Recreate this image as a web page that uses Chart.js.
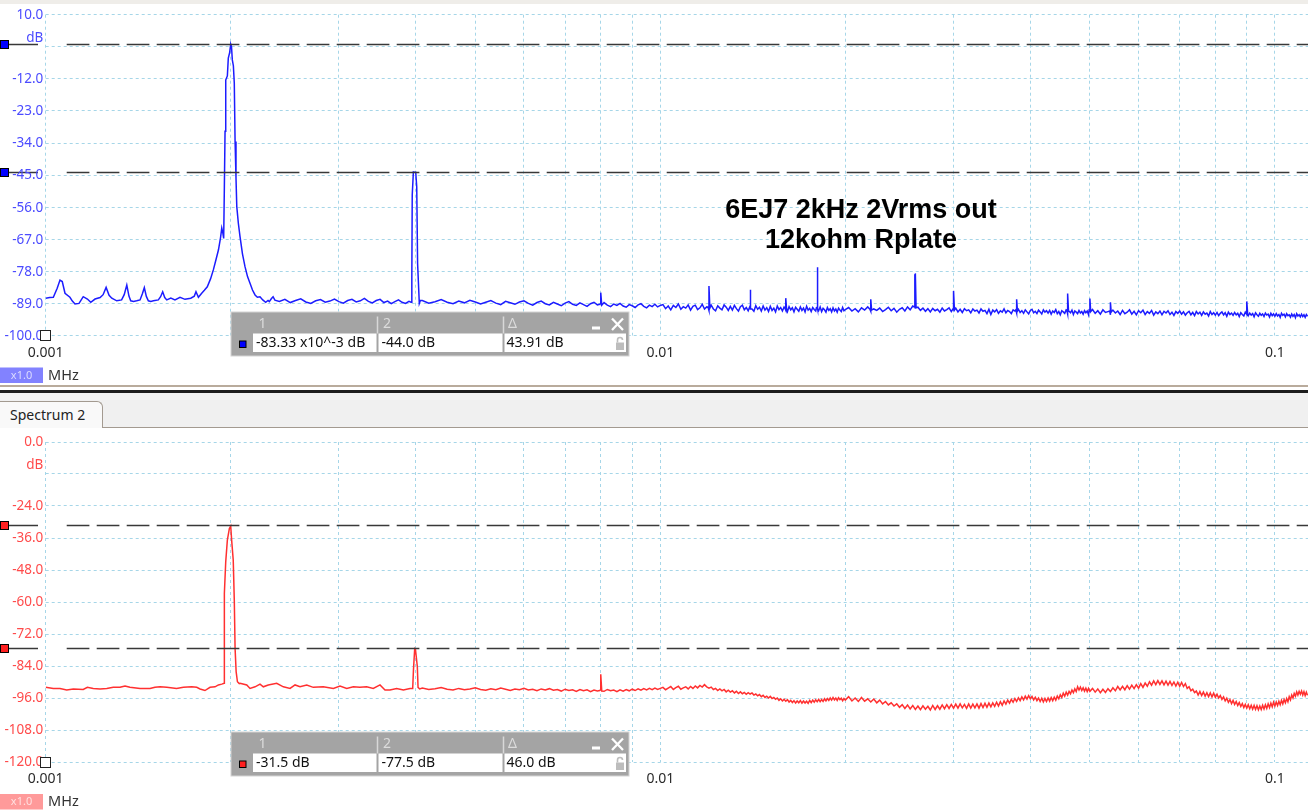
<!DOCTYPE html>
<html><head><meta charset="utf-8">
<script src="https://cdn.jsdelivr.net/npm/chart.js@4/dist/chart.umd.min.js"></script>
<style>
html,body{margin:0;padding:0;background:#fff;}
body{width:1308px;height:812px;position:relative;overflow:hidden;font-family:"Noto Sans",sans-serif;}
#topStrip{position:absolute;left:0;top:0;width:1308px;height:4px;background:#efede9;}
#c1{position:absolute;left:0;top:0;}
#c2{position:absolute;left:0;top:428px;}
#sepA{position:absolute;left:0;top:385px;width:1308px;height:2px;background:#b9ab9c;}
#sepB{position:absolute;left:0;top:390px;width:1308px;height:3px;background:#1c1c1c;}
#tabbar{position:absolute;left:0;top:393px;width:1308px;height:34px;background:#f0f0f0;border-bottom:1px solid #a39a90;}
#tab{position:absolute;left:0;top:401px;width:103px;height:27px;background:#f9f9f9;border:1px solid #a39a90;border-left:none;border-bottom:none;border-top-right-radius:6px;font:14px "Noto Sans";color:#222;line-height:26px;padding-left:10px;box-sizing:border-box;}
</style></head>
<body>
<div id="topStrip"></div>
<canvas id="c1" width="1308" height="385"></canvas>
<div id="sepA"></div><div id="sepB"></div>
<div id="tabbar"></div>
<div id="tab">Spectrum 2</div>
<canvas id="c2" width="1308" height="384"></canvas>
<script>
// ---------------- axis ticks ----------------
const xTickValues = [0.001,0.002,0.003,0.004,0.005,0.006,0.007,0.008,0.009,
                     0.01,0.02,0.03,0.04,0.05,0.06,0.07,0.08,0.09,0.1];
const xLabelValues = [0.001, 0.01, 0.1];
const xLabelTexts = ['0.001', '0.01', '0.1'];
const yTicksTop = [10,-1,-12,-23,-34,-45,-56,-67,-78,-89,-100];
const yTicksBottom = [0,-12,-24,-36,-48,-60,-72,-84,-96,-108,-120];

// ---------------- cursors / readouts ----------------
const cursorsTop = [-0.0833, -44.0];
const cursorsBottom = [-31.5, -77.5];
const readoutTop = ['-83.33 x10^-3 dB', '-44.0 dB', '43.91 dB'];
const readoutBottom = ['-31.5 dB', '-77.5 dB', '46.0 dB'];
const noteLines = ['6EJ7 2kHz 2Vrms out', '12kohm Rplate'];

// ---------------- spectrum 1 (blue), low range, kHz / dB ----------------
const blueLowF = [
1.000,1.015,1.029,1.044,1.055,1.064,1.075,1.095,1.105,1.116,
1.133,1.151,1.169,1.184,1.203,1.226,1.240,1.254,1.268,1.281,
1.305,1.329,1.342,1.355,1.366,1.375,1.390,1.406,1.424,1.436,
1.447,1.458,1.469,1.483,1.497,1.525,1.538,1.550,1.562,1.574,
1.598,1.623,1.654,1.685,1.722,1.745,1.756,1.772,1.794,1.812,
1.832,1.855,1.874,1.892,1.910,1.925,1.934,1.942,1.948,1.953,
1.958,1.963,1.975,1.982,1.992,2.000,2.006,2.012,2.020,2.027,
2.033,2.040,2.046,2.058,2.071,2.090,2.110,2.130,2.150,2.170,
2.191,2.210,2.232,2.255,2.280,2.300,2.311,2.330,2.344,2.360,
2.40,2.45,2.50,2.55,2.60,2.65,2.70,2.75,2.80,2.85,
2.90,2.95,3.00,3.05,3.10,3.15,3.20,3.25,3.30,3.35,
3.40,3.45,3.50,3.55,3.60,3.65,3.70,3.75,3.80,3.85,
3.90,3.93,3.942,3.948,3.965,3.980,4.000,4.015,4.028,4.054,
4.070];
const blueLowDb = [
-87.2,-87.0,-86.9,-83.8,-81.0,-81.5,-85.5,-86.9,-88.2,-89.2,
-89.0,-86.7,-87.5,-88.6,-87.5,-87.0,-86.0,-83.5,-86.2,-87.2,
-88.1,-87.8,-86.0,-82.7,-86.5,-88.1,-88.3,-88.1,-87.8,-85.8,
-83.6,-86.6,-88.1,-88.3,-88.1,-87.8,-86.7,-85.0,-87.0,-87.8,
-87.2,-87.8,-86.9,-87.6,-87.2,-86.5,-85.0,-86.9,-85.5,-84.5,
-83.3,-80.5,-77.5,-74.1,-70.7,-66.5,-63.2,-64.9,-66.7,-49.0,
-30.0,-12.4,-11.0,-4.9,-3.0,-0.08,-1.0,-5.5,-7.5,-13.5,
-33.5,-46.0,-55.8,-61.5,-66.1,-72.0,-76.4,-79.8,-82.1,-84.4,
-86.1,-86.9,-86.7,-87.8,-88.6,-88.0,-88.4,-87.3,-86.7,-87.9,
-88.3,-87.6,-88.7,-88.0,-87.4,-88.5,-89.0,-88.1,-87.7,-88.6,
-88.2,-87.5,-88.4,-88.9,-88.0,-87.6,-88.5,-88.1,-87.3,-88.3,
-88.8,-88.0,-87.6,-88.7,-88.2,-89.1,-88.4,-87.8,-88.6,-89.0,
-88.3,-88.6,-79.7,-51.8,-43.9,-44.0,-44.0,-49.0,-75.2,-89.0,
-88.0];

// ---------------- spectrum 2 (red), low range, kHz / dB ----------------
const redLowF = [
1.000,1.029,1.055,1.082,1.109,1.151,1.169,1.195,1.226,1.257,
1.288,1.321,1.346,1.371,1.424,1.478,1.506,1.535,1.574,1.633,
1.675,1.728,1.761,1.783,1.816,1.851,1.886,1.910,1.934,1.951,
1.953,1.963,1.975,1.990,2.000,2.007,2.019,2.027,2.033,2.041,
2.051,2.065,2.071,2.124,2.150,2.191,2.232,2.260,2.302,2.376,
2.436,2.498,2.545,2.593,2.659,2.725,2.829,2.938,3.012,3.089,
3.166,3.245,3.328,3.412,3.499,3.565,3.632,3.724,3.819,3.916,
3.955,3.966,3.985,3.995,4.024,4.035,4.060];
const redLowDb = [
-92.0,-92.4,-92.4,-93.0,-92.6,-92.8,-92.0,-92.4,-92.6,-92.4,
-92.0,-92.0,-91.5,-92.0,-92.4,-92.4,-92.0,-91.8,-92.0,-92.4,
-92.0,-91.8,-92.0,-92.6,-93.2,-92.0,-91.8,-91.1,-90.8,-90.5,
-56.8,-44.9,-36.8,-32.4,-31.5,-36.8,-44.3,-59.3,-77.4,-86.1,
-89.9,-90.6,-90.5,-91.1,-92.4,-91.8,-90.8,-91.8,-91.1,-90.5,
-91.8,-92.4,-91.1,-91.8,-91.1,-92.0,-91.8,-92.4,-91.5,-92.4,
-91.8,-92.0,-91.8,-92.4,-91.1,-93.0,-93.0,-92.4,-93.0,-92.4,
-92.4,-85.5,-77.4,-77.5,-84.2,-92.0,-92.6];

// ---------------- shared frequency bands (kHz) ----------------
const bandAF = [
4.1,4.2,4.3,4.4,4.5,4.6,4.7,4.8,4.9,5.0,
5.1,5.2,5.3,5.4,5.5,5.6,5.7,5.8,5.9,6.0,
6.1,6.2,6.3,6.4,6.5,6.6,6.7,6.8,6.9,7.0,
7.1,7.2,7.3,7.4,7.5,7.6,7.7,7.8,7.9,8.0,
8.1,8.2,8.3,8.4,8.5,8.6,8.7,8.8,8.9,9.0,
9.1,9.2,9.3,9.4,9.5,9.6,9.7,9.8,9.9,10.0];
const bandABlue = [
-88.0,-88.9,-88.4,-87.7,-88.6,-89.1,-88.2,-88.8,-87.9,-88.5,
-89.2,-88.6,-88.0,-88.9,-89.4,-88.3,-88.8,-89.3,-88.5,-88.1,
-89.0,-89.6,-88.7,-88.2,-89.1,-89.5,-88.6,-89.2,-89.8,-88.9,
-88.4,-89.3,-89.7,-88.8,-89.4,-90.0,-89.1,-88.6,-89.5,-89.0,
-88.7,-89.6,-90.1,-89.2,-89.7,-89.0,-89.9,-90.3,-89.4,-89.8,
-90.4,-89.5,-89.1,-90.0,-90.5,-89.6,-90.1,-89.3,-90.2,-89.7];
const bandARed = [
-92.3,-92.8,-92.5,-92.1,-92.7,-93.0,-92.4,-92.9,-92.6,-92.2,
-92.8,-93.1,-92.5,-92.9,-92.3,-92.7,-93.2,-92.6,-92.9,-92.4,
-93.0,-92.7,-93.3,-92.6,-93.0,-92.5,-93.1,-92.8,-93.4,-92.7,
-93.2,-92.9,-93.5,-92.8,-93.3,-92.9,-93.6,-93.0,-93.4,-92.9,
-93.5,-92.8,-93.3,-93.0,-93.6,-92.9,-93.4,-92.8,-93.3,-92.7,
-93.2,-92.6,-93.1,-92.5,-93.0,-92.4,-92.9,-92.3,-92.8,-92.4];

const bandBF = [
10.1,10.2,10.3,10.4,10.5,10.6,10.7,10.8,10.9,11.0,
11.1,11.2,11.3,11.4,11.5,11.6,11.7,11.8,11.9,12.0,
12.1,12.2,12.3,12.4,12.5,12.6,12.7,12.8,12.9,13.0,
13.1,13.2,13.3,13.4,13.5,13.6,13.7,13.8,13.9,14.0,
14.1,14.2,14.3,14.4,14.5,14.6,14.7,14.8,14.9,15.0,
15.1,15.2,15.3,15.4,15.5,15.6,15.7,15.8,15.9,16.0,
16.1,16.2,16.3,16.4,16.5,16.6,16.7,16.8,16.9,17.0,
17.1,17.2,17.3,17.4,17.5,17.6,17.7,17.8,17.9,18.0,
18.1,18.2,18.3,18.4,18.5,18.6,18.7,18.8,18.9,19.0,
19.1,19.2,19.3,19.4,19.5,19.6,19.7,19.8,19.9,20.0];
const bandBBlue = [
-89.4,-90.8,-89.9,-91.2,-89.7,-90.4,-89.2,-91.0,-90.1,-90.6,
-89.5,-91.3,-90.0,-89.6,-91.1,-90.5,-89.3,-90.9,-90.2,-91.4,
-89.6,-90.9,-91.5,-89.8,-90.6,-91.2,-89.5,-90.3,-91.4,-90.0,
-91.3,-89.7,-90.8,-91.6,-90.1,-89.6,-91.2,-90.4,-91.5,-89.9,
-90.9,-91.7,-89.8,-91.0,-90.3,-91.6,-89.9,-91.3,-90.5,-91.8,
-90.0,-91.4,-90.6,-91.9,-89.9,-91.1,-90.4,-91.6,-90.2,-91.3,
-91.8,-90.1,-91.2,-90.5,-91.9,-90.3,-91.0,-91.7,-90.2,-91.4,
-90.6,-91.9,-90.0,-91.3,-90.7,-91.8,-90.4,-91.1,-91.6,-90.3,
-91.5,-90.2,-91.8,-90.7,-91.2,-92.0,-90.4,-91.4,-90.8,-91.9,
-90.5,-91.6,-90.9,-92.0,-90.6,-91.3,-91.8,-90.4,-91.5,-91.1];
const bandBRed = [
-92.0,-92.9,-92.3,-91.7,-92.8,-92.1,-91.6,-92.7,-92.2,-91.8,
-92.6,-91.7,-92.4,-91.5,-92.2,-91.3,-91.9,-91.0,-91.8,-92.3,
-91.9,-92.8,-92.4,-93.2,-92.6,-93.3,-92.8,-93.7,-93.1,-93.8,
-93.3,-94.1,-93.5,-94.3,-93.7,-94.4,-93.9,-94.6,-94.0,-94.5,
-94.1,-94.9,-94.5,-95.2,-94.7,-95.5,-95.0,-95.8,-95.3,-96.0,
-95.4,-96.2,-95.8,-96.5,-96.0,-96.9,-96.3,-97.1,-96.5,-97.2,
-96.6,-97.5,-96.9,-97.7,-97.0,-97.9,-97.1,-97.8,-97.0,-97.9,
-97.1,-97.9,-97.2,-98.0,-96.9,-97.7,-96.8,-97.6,-96.7,-97.4,
-96.5,-97.4,-96.6,-97.3,-96.3,-97.1,-96.2,-96.9,-96.0,-96.8,
-95.8,-96.7,-96.0,-96.9,-95.9,-96.6,-96.1,-97.0,-96.2,-96.8];

const bandCF = [
20.25,20.5,20.75,21.0,21.25,21.5,21.75,22.0,22.25,22.5,
22.75,23.0,23.25,23.5,23.75,24.0,24.25,24.5,24.75,25.0,
25.25,25.5,25.75,26.0,26.25,26.5,26.75,27.0,27.25,27.5,
27.75,28.0,28.25,28.5,28.75,29.0,29.25,29.5,29.75,30.0,
30.25,30.5,30.75,31.0,31.25,31.5,31.75,32.0,32.25,32.5,
32.75,33.0,33.25,33.5,33.75,34.0,34.25,34.5,34.75,35.0,
35.25,35.5,35.75,36.0,36.25,36.5,36.75,37.0,37.25,37.5,
37.75,38.0,38.25,38.5,38.75,39.0,39.25,39.5,39.75,40.0,
40.25,40.5,40.75,41.0,41.25,41.5,41.75,42.0,42.25,42.5,
42.75,43.0,43.25,43.5,43.75,44.0,44.25,44.5,44.75,45.0,
45.25,45.5,45.75,46.0,46.25,46.5,46.75,47.0,47.25,47.5,
47.75,48.0,48.25,48.5,48.75,49.0,49.25,49.5,49.75,50.0];
const bandCBlue = [
-90.4,-91.6,-90.8,-91.9,-90.5,-91.3,-90.2,-91.7,-90.9,-91.4,
-90.6,-91.8,-91.1,-90.3,-91.5,-90.7,-92.0,-91.0,-90.5,-91.6,
-90.2,-91.2,-89.9,-90.8,-90.3,-91.4,-90.6,-91.7,-90.8,-91.9,
-90.7,-91.5,-91.0,-92.0,-90.6,-91.6,-91.1,-90.5,-91.8,-91.2,
-90.6,-91.9,-91.0,-92.1,-90.8,-91.5,-91.2,-92.2,-90.9,-91.6,
-91.3,-92.3,-90.9,-91.7,-91.4,-92.5,-91.0,-92.8,-91.3,-91.9,
-91.1,-92.4,-91.5,-92.0,-90.9,-92.2,-91.4,-91.8,-92.5,-91.2,
-91.6,-92.3,-91.0,-92.1,-91.5,-92.4,-91.2,-91.9,-92.6,-91.4,
-91.0,-92.2,-91.7,-92.5,-91.3,-91.9,-92.6,-91.2,-92.0,-91.5,
-92.3,-91.4,-92.7,-91.6,-92.1,-91.1,-92.5,-91.8,-92.9,-91.5,
-91.9,-92.4,-91.2,-92.6,-91.7,-92.2,-91.3,-92.8,-91.6,-92.0,
-92.5,-91.4,-92.3,-91.8,-92.7,-91.5,-92.2,-91.6,-92.9,-91.7];
const bandCRed = [
-95.5,-97.1,-96.0,-97.3,-95.8,-97.2,-96.3,-97.5,-96.4,-97.8,
-96.8,-98.2,-97.3,-98.6,-97.8,-99.0,-98.2,-99.5,-98.5,-99.9,
-98.6,-100.1,-98.8,-100.3,-99.0,-100.4,-98.9,-100.2,-99.1,-100.5,
-98.8,-100.3,-98.9,-100.2,-98.6,-100.0,-98.5,-99.9,-98.4,-99.8,
-98.3,-99.8,-98.2,-99.7,-98.4,-99.9,-98.2,-99.8,-98.3,-99.7,
-98.2,-99.8,-98.1,-99.6,-98.0,-99.5,-97.9,-99.3,-97.8,-99.1,
-97.6,-99.0,-97.4,-98.7,-97.1,-98.3,-96.8,-97.9,-96.5,-97.6,
-96.2,-97.3,-95.9,-97.0,-95.6,-96.7,-95.3,-96.4,-95.1,-96.3,
-95.4,-96.7,-95.7,-97.0,-96.0,-97.3,-96.1,-97.5,-96.2,-97.3,
-96.0,-97.2,-95.8,-97.0,-95.7,-96.8,-95.3,-96.3,-94.8,-95.8,
-94.2,-95.3,-93.8,-94.9,-93.5,-94.4,-93.0,-94.0,-92.6,-93.6,
-91.8,-93.0,-91.9,-93.2,-92.2,-93.4,-92.3,-93.6,-92.4,-93.5];

const bandDF = [
50.5,51.0,51.5,52.0,52.5,53.0,53.5,54.0,54.5,55.0,
55.5,56.0,56.5,57.0,57.5,58.0,58.5,59.0,59.5,60.0,
60.5,61.0,61.5,62.0,62.5,63.0,63.5,64.0,64.5,65.0,
65.5,66.0,66.5,67.0,67.5,68.0,68.5,69.0,69.5,70.0,
70.5,71.0,71.5,72.0,72.5,73.0,73.5,74.0,74.5,75.0,
75.5,76.0,76.5,77.0,77.5,78.0,78.5,79.0,79.5,80.0,
80.5,81.0,81.5,82.0,82.5,83.0,83.5,84.0,84.5,85.0,
85.5,86.0,86.5,87.0,87.5,88.0,88.5,89.0,89.5,90.0,
90.5,91.0,91.5,92.0,92.5,93.0,93.5,94.0,94.5,95.0,
95.5,96.0,96.5,97.0,97.5,98.0,98.5,99.0,99.5,100.0,
100.5,101.0,101.5,102.0,102.5,103.0,103.5,104.0,104.5,105.0,
105.5,106.0,106.5,107.0,107.5,108.0,108.5,109.0,109.5,110.0,
110.5,111.0,111.5,112.0,112.5,113.0];
const bandDBlue = [
-91.1,-92.4,-91.5,-92.7,-91.2,-92.1,-91.8,-92.9,-91.3,-92.3,
-91.6,-92.8,-91.4,-92.5,-92.0,-91.2,-92.7,-91.7,-92.9,-91.5,
-92.2,-91.3,-92.8,-91.8,-92.4,-91.4,-93.0,-91.9,-92.5,-91.6,
-92.9,-91.7,-92.3,-91.5,-92.8,-92.0,-93.1,-91.8,-92.4,-91.6,
-92.7,-91.9,-93.0,-92.2,-91.7,-92.9,-92.1,-93.2,-91.8,-92.6,
-92.0,-93.1,-91.9,-92.7,-92.3,-93.3,-91.8,-92.8,-92.2,-93.0,
-92.1,-93.2,-92.4,-91.9,-92.9,-92.2,-93.4,-92.0,-92.8,-92.3,
-93.1,-92.1,-92.9,-92.4,-93.5,-92.2,-92.8,-93.3,-92.0,-92.7,
-93.2,-92.3,-93.0,-92.5,-93.6,-92.2,-92.9,-93.4,-92.4,-93.1,
-92.6,-93.5,-92.3,-93.0,-92.7,-93.7,-92.4,-93.2,-92.6,-93.4,
-92.5,-93.3,-92.8,-93.8,-92.4,-93.1,-92.7,-93.6,-92.5,-93.2,
-92.9,-93.7,-92.6,-93.4,-92.8,-93.9,-92.5,-93.3,-92.9,-93.6,
-92.7,-93.5,-92.9,-93.8,-92.8,-93.4];
const bandDRed = [
-92.4,-93.8,-92.6,-94.0,-92.7,-93.9,-92.5,-93.6,-92.2,-93.3,
-91.7,-93.0,-91.6,-92.9,-91.4,-92.7,-91.2,-92.5,-91.0,-92.3,
-90.6,-92.0,-90.4,-91.6,-89.9,-91.2,-89.6,-91.0,-89.5,-90.9,
-89.6,-91.1,-89.7,-91.2,-89.8,-91.3,-90.0,-91.5,-90.1,-91.6,
-90.2,-91.7,-90.6,-92.4,-91.8,-93.3,-92.7,-94.0,-93.4,-94.9,
-93.6,-95.1,-93.8,-95.3,-94.0,-95.5,-94.1,-95.6,-94.2,-95.7,
-94.6,-96.0,-95.1,-96.5,-95.6,-97.1,-96.1,-97.6,-96.6,-98.1,
-96.9,-98.4,-97.3,-98.8,-97.7,-99.2,-98.1,-99.6,-98.4,-99.8,
-98.5,-100.0,-98.7,-100.2,-98.8,-100.3,-98.9,-100.4,-99.0,-100.3,
-98.7,-100.1,-98.5,-99.9,-98.2,-99.6,-97.9,-99.3,-97.6,-99.0,
-97.5,-98.8,-97.2,-98.5,-96.9,-98.2,-96.6,-97.8,-96.2,-97.4,
-95.5,-96.7,-94.9,-96.0,-94.3,-95.3,-93.7,-94.9,-93.5,-94.6,
-93.4,-94.9,-93.6,-95.1,-93.8,-95.0];

// ---------------- harmonic / spur lines (kHz / dB) ----------------
const blueSpurF = [7.97,8.0,8.03, 11.96,12.0,12.04, 13.96,14.0,14.04, 15.95,16.0,16.05,
  17.95,18.0,18.05, 21.93,22.0,22.07, 25.9,25.95,26.0,26.07, 29.9,30.0,30.1,
  37.88,38.0,38.12, 45.85,46.0,46.15, 49.85,50.0,50.15, 53.85,54.0,54.15, 89.7,90.0,90.3];
const blueSpurDb = [-89.3,-85.3,-89.6, -90.3,-83.0,-90.6, -90.5,-84.3,-90.9, -90.6,-87.2,-91.0,
  -90.4,-76.6,-90.9, -91.0,-87.6,-91.3, -90.2,-79.0,-78.7,-90.5, -91.0,-84.7,-91.3,
  -91.2,-87.6,-91.6, -91.3,-85.6,-91.7, -91.4,-87.3,-91.8, -91.6,-88.6,-92.0, -92.3,-88.3,-92.6];
const redSpurF = [7.97, 8.0, 8.03];
const redSpurDb = [-93.2, -87.1, -93.4];

// ---------------- helpers ----------------
const FONT = '"Noto Sans", "DejaVu Sans", sans-serif';
const GRID_COLOR = '#a6d6e8';
const W = 1308;

function buildPoints(segments) {
  const pts = [];
  segments.forEach(([F, D]) => {
    if (F.length !== D.length) console.warn('length mismatch', F.length, D.length);
    F.forEach((f, i) => pts.push({ x: f / 1000, y: D[i] }));
  });
  pts.sort((a, b) => a.x - b.x);
  return pts;
}
function line(ctx, x1, y1, x2, y2) { ctx.beginPath(); ctx.moveTo(x1, y1); ctx.lineTo(x2, y2); ctx.stroke(); }

function drawReadout(ctx, by, markColor, texts) {
  const bx = 230.5, bw = 399, bh = 45;
  ctx.fillStyle = '#d4d4d4'; ctx.fillRect(bx, by, bw, bh);
  ctx.fillStyle = '#a4a4a4'; ctx.fillRect(bx + 1, by + 1, bw - 2, bh - 2);
  ctx.fillStyle = '#ffffff';
  ctx.fillRect(253, by + 22, 123.5, 18.5);
  ctx.fillRect(378.5, by + 22, 124, 18.5);
  ctx.fillRect(504.5, by + 22, 121.5, 18.5);
  ctx.strokeStyle = '#d8d8d8'; ctx.lineWidth = 1.5;
  line(ctx, 377.5, by + 5, 377.5, by + 22);
  line(ctx, 503.5, by + 5, 503.5, by + 22);
  ctx.font = '14px ' + FONT; ctx.textBaseline = 'middle'; ctx.textAlign = 'left';
  ctx.fillStyle = '#dcdcdc';
  ctx.fillText('1', 258.5, by + 12.5);
  ctx.fillText('2', 383, by + 12.5);
  ctx.fillText('\u0394', 508, by + 12.5);
  ctx.fillStyle = '#ffffff'; ctx.fillRect(592, by + 15, 8, 3);
  ctx.strokeStyle = '#ffffff'; ctx.lineWidth = 2.3;
  line(ctx, 612, by + 7, 623, by + 18.5);
  line(ctx, 623, by + 7, 612, by + 18.5);
  ctx.fillStyle = '#bdbdbd'; ctx.fillRect(616, by + 31, 8, 7.5);
  ctx.strokeStyle = '#bdbdbd'; ctx.lineWidth = 1.6;
  ctx.beginPath(); ctx.moveTo(617.5, by + 31); ctx.lineTo(617.5, by + 28.5);
  ctx.arc(620, by + 28.5, 2.5, Math.PI, 0); ctx.stroke();
  ctx.fillStyle = markColor; ctx.fillRect(239.5, by + 29.5, 6.5, 6.5);
  ctx.strokeStyle = '#000'; ctx.lineWidth = 1; ctx.strokeRect(239.5, by + 29.5, 6.5, 6.5);
  ctx.fillStyle = '#111';
  ctx.fillText(texts[0], 256, by + 31.5);
  ctx.fillText(texts[1], 381.5, by + 31.5);
  ctx.fillText(texts[2], 506.5, by + 31.5);
}

function makePlugin(cfg) {
  return {
    id: 'panel' + cfg.name,
    beforeDatasetsDraw(chart) {
      const ctx = chart.ctx, a = chart.chartArea, xs = chart.scales.x, ys = chart.scales.y;
      ctx.save();
      ctx.strokeStyle = GRID_COLOR; ctx.lineWidth = 1; ctx.setLineDash([3, 3]);
      xs.ticks.forEach(t => { const px = Math.floor(xs.getPixelForValue(t.value)) + 0.5; line(ctx, px, a.top, px, a.bottom); });
      ys.ticks.forEach(t => { const py = Math.floor(ys.getPixelForValue(t.value)) + 0.5; line(ctx, a.left, py, a.right, py); });
      ctx.restore();
    },
    afterDatasetsDraw(chart) {
      const ctx = chart.ctx, a = chart.chartArea, xs = chart.scales.x, ys = chart.scales.y;
      ctx.save();
      cfg.cursors.forEach(v => {
        const py = Math.floor(ys.getPixelForValue(v)) + 0.5;
        ctx.strokeStyle = '#383838'; ctx.lineWidth = 1.5;
        ctx.setLineDash([]); line(ctx, 8, py, 38, py);
        ctx.setLineDash([22.7, 7.3]); line(ctx, 66.7, py, W, py);
      });
      ctx.setLineDash([]);
      if (cfg.note) {
        ctx.fillStyle = '#000'; ctx.font = 'bold 27px "Liberation Sans", Arial, sans-serif';
        ctx.textAlign = 'center'; ctx.textBaseline = 'alphabetic';
        ctx.fillText(cfg.note[0], 861, 217.5);
        ctx.fillText(cfg.note[1], 861, 247.5);
      }
      ctx.font = '13.5px ' + FONT; ctx.fillStyle = cfg.tickColor;
      ctx.textAlign = 'right'; ctx.textBaseline = 'middle';
      cfg.yTicks.forEach((v, i) => {
        const py = ys.getPixelForValue(v);
        if (i === 1) ctx.fillText('dB', 43.3, py - 8.5);
        else ctx.fillText(v.toFixed(1), 43.3, py + 0.5);
      });
      ctx.font = '14px ' + FONT; ctx.fillStyle = '#2b2b2b'; ctx.textAlign = 'center';
      xLabelValues.forEach((v, i) => ctx.fillText(xLabelTexts[i], xs.getPixelForValue(v), a.bottom + 17.5));
      ctx.fillStyle = cfg.unitBox; ctx.fillRect(0, a.bottom + 32, 43, 15.5);
      ctx.fillStyle = cfg.unitText; ctx.font = '11px ' + FONT; ctx.textAlign = 'center';
      ctx.fillText('x1.0', 21.5, a.bottom + 40);
      ctx.fillStyle = '#333'; ctx.font = '14.5px ' + FONT; ctx.textAlign = 'left';
      ctx.fillText('MHz', 48, a.bottom + 40);
      cfg.cursors.forEach(v => {
        const py = Math.floor(ys.getPixelForValue(v)) + 0.5;
        ctx.fillStyle = cfg.markColor; ctx.fillRect(0.5, py - 4, 8, 8);
        ctx.strokeStyle = '#000'; ctx.lineWidth = 1; ctx.strokeRect(0.5, py - 4, 8, 8);
      });
      ctx.fillStyle = '#fff'; ctx.fillRect(a.left - 5, a.bottom - 5, 10, 10);
      ctx.strokeStyle = '#222'; ctx.lineWidth = 1; ctx.strokeRect(Math.floor(a.left) - 4.5, Math.floor(a.bottom) - 4.5, 10, 10);
      drawReadout(ctx, cfg.boxY, cfg.markColor, cfg.readout);
      ctx.restore();
    }
  };
}

function makeChart(id, cfg) {
  const canvas = document.getElementById(id);
  return new Chart(canvas.getContext('2d'), {
    type: 'line',
    data: { datasets: [{ data: cfg.points, borderColor: cfg.lineColor, borderWidth: 1.5,
      pointRadius: 0, fill: false, tension: 0 }] },
    options: {
      responsive: false, animation: false, events: [],
      layout: { padding: { top: cfg.padTop, left: 0, right: 0, bottom: 0 } },
      plugins: { legend: { display: false }, tooltip: { enabled: false } },
      scales: {
        x: { type: 'logarithmic', min: 0.001, max: 0.1132,
          grid: { display: false }, border: { display: false }, ticks: { display: false },
          afterBuildTicks: s => { s.ticks = xTickValues.map(v => ({ value: v })); },
          afterFit: s => { s.height = cfg.xAxisH; } },
        y: { type: 'linear', min: cfg.yMin, max: cfg.yMax,
          grid: { display: false }, border: { display: false }, ticks: { display: false },
          afterBuildTicks: s => { s.ticks = cfg.yTicks.map(v => ({ value: v })); },
          afterFit: s => { s.width = 45.7; } }
      }
    },
    plugins: [makePlugin(cfg)]
  });
}

function draw() {
  const bluePts = buildPoints([[blueLowF, blueLowDb], [bandAF, bandABlue], [bandBF, bandBBlue],
    [bandCF, bandCBlue], [bandDF, bandDBlue], [blueSpurF, blueSpurDb]]);
  const redPts = buildPoints([[redLowF, redLowDb], [bandAF, bandARed], [bandBF, bandBRed],
    [bandCF, bandCRed], [bandDF, bandDRed], [redSpurF, redSpurDb]]);
  makeChart('c1', { name: 'Top', points: bluePts, lineColor: 'rgb(28,28,255)', padTop: 14.7, xAxisH: 49.5,
    yMin: -100, yMax: 10, yTicks: yTicksTop, cursors: cursorsTop, readout: readoutTop,
    tickColor: '#4b4bff', markColor: '#0000ff', unitBox: '#8282ff', unitText: '#dcdcff',
    boxY: 311.5, note: noteLines });
  makeChart('c2', { name: 'Bottom', points: redPts, lineColor: 'rgb(255,48,48)', padTop: 14, xAxisH: 50,
    yMin: -120, yMax: 0, yTicks: yTicksBottom, cursors: cursorsBottom, readout: readoutBottom,
    tickColor: '#ff4b4b', markColor: '#ff2020', unitBox: '#ff9a9a', unitText: '#ffe0e0',
    boxY: 303.5, note: null });
}

const ready = (document.fonts && document.fonts.load)
  ? Promise.all([document.fonts.load('14px "Noto Sans"'), document.fonts.load('bold 27px "Liberation Sans"')]).catch(() => {})
  : Promise.resolve();
ready.then(draw, draw);
</script>
</body></html>
